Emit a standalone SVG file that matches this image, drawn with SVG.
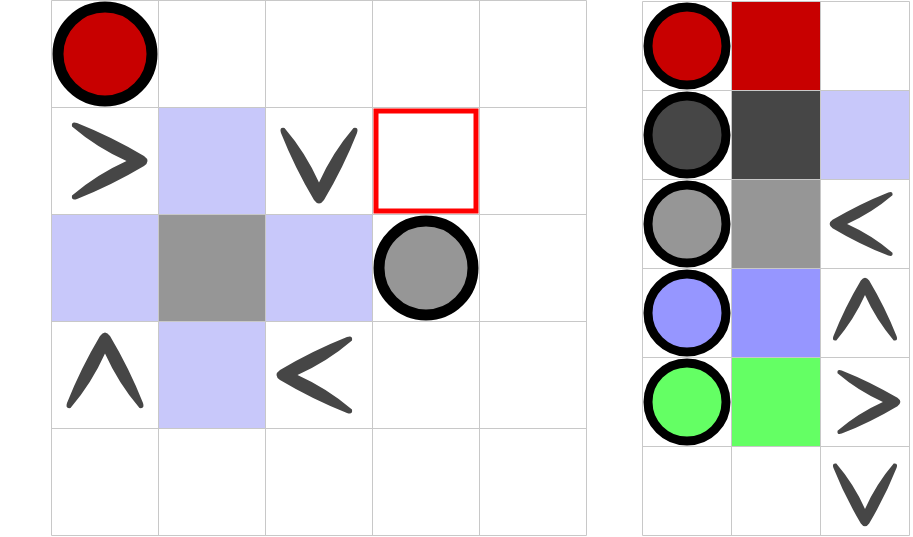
<svg xmlns="http://www.w3.org/2000/svg" xmlns:xlink="http://www.w3.org/1999/xlink" width="913" height="537" viewBox="0 0 913 537">
<style>
.grid{stroke:#c8c8c8;stroke-width:1;fill:none}
.lav{fill:#c8c8fa}
.gray{fill:#969696}
.chev{fill:#464646}
.ring{stroke:#000;stroke-width:11}
.ring2{stroke:#000;stroke-width:9}
</style>
<defs>
<path id="chevV" d="M -38,-28 Q -40,-34 -34.5,-33 Q -13.5,-8.5 0,21.5 Q 13.5,-8.5 34.5,-33 Q 40,-34 38,-28 Q 24.2,6.8 5,39 Q 0,46 -5,39 Q -24.2,6.8 -38,-28 Z"/>
</defs>
<rect x="0" y="0" width="913" height="537" fill="#fff"/>
<g id="left-board">
  <g id="left-fills">
    <rect class="lav" x="158.5" y="107.5" width="107" height="107"/>
    <rect class="lav" x="51.5" y="214.5" width="107" height="107"/>
    <rect class="gray" x="158.5" y="214.5" width="107" height="107"/>
    <rect class="lav" x="265.5" y="214.5" width="107" height="107"/>
    <rect class="lav" x="158.5" y="321.5" width="107" height="107"/>
  </g>
  <g id="left-grid" class="grid">
    <path d="M51.5,0.5V535.5M158.5,0.5V535.5M265.5,0.5V535.5M372.5,0.5V535.5M479.5,0.5V535.5M586.5,0.5V535.5"/>
    <path d="M51.5,0.5H586.5M51.5,107.5H586.5M51.5,214.5H586.5M51.5,321.5H586.5M51.5,428.5H586.5M51.5,535.5H586.5"/>
  </g>
  <g id="red-piece"><circle class="ring" cx="105" cy="54" r="47" fill="#c80000"/></g>
  <g id="gray-piece"><circle class="ring" cx="426" cy="268" r="47" fill="#969696"/></g>
  <g id="target"><rect x="376" y="111" width="100" height="100" fill="none" stroke="#ff0000" stroke-width="5"/></g>
  <g id="left-arrows" class="chev">
    <use xlink:href="#chevV" transform="translate(105,161) rotate(-90)"/>
    <use xlink:href="#chevV" transform="translate(319,161)"/>
    <use xlink:href="#chevV" transform="translate(105,375) rotate(180)"/>
    <use xlink:href="#chevV" transform="translate(319,375) rotate(90)"/>
  </g>
</g>
<g id="right-board">
  <g id="right-fills">
    <rect x="731.5" y="1.5" width="89" height="89" fill="#c80000"/>
    <rect x="731.5" y="90.5" width="89" height="89" fill="#464646"/>
    <rect x="820.5" y="90.5" width="89" height="89" class="lav"/>
    <rect x="731.5" y="179.5" width="89" height="89" fill="#969696"/>
    <rect x="731.5" y="268.5" width="89" height="89" fill="#9696ff"/>
    <rect x="731.5" y="357.5" width="89" height="89" fill="#64ff64"/>
  </g>
  <g id="right-grid" class="grid">
    <path d="M642.5,1.5V535.5M731.5,1.5V535.5M820.5,1.5V535.5M909.5,1.5V535.5"/>
    <path d="M642.5,1.5H909.5M642.5,90.5H909.5M642.5,179.5H909.5M642.5,268.5H909.5M642.5,357.5H909.5M642.5,446.5H909.5M642.5,535.5H909.5"/>
  </g>
  <g id="right-pieces">
    <circle class="ring2" cx="687" cy="46" r="39" fill="#c80000"/>
    <circle class="ring2" cx="687" cy="135" r="39" fill="#464646"/>
    <circle class="ring2" cx="687" cy="224" r="39" fill="#969696"/>
    <circle class="ring2" cx="687" cy="313" r="39" fill="#9696ff"/>
    <circle class="ring2" cx="687" cy="402" r="39" fill="#64ff64"/>
  </g>
  <g id="right-arrows" class="chev">
    <use xlink:href="#chevV" transform="translate(865,224) scale(0.832) rotate(90)"/>
    <use xlink:href="#chevV" transform="translate(865,313) scale(0.832) rotate(180)"/>
    <use xlink:href="#chevV" transform="translate(865,402) scale(0.832) rotate(-90)"/>
    <use xlink:href="#chevV" transform="translate(865,491) scale(0.832)"/>
  </g>
</g>
</svg>
